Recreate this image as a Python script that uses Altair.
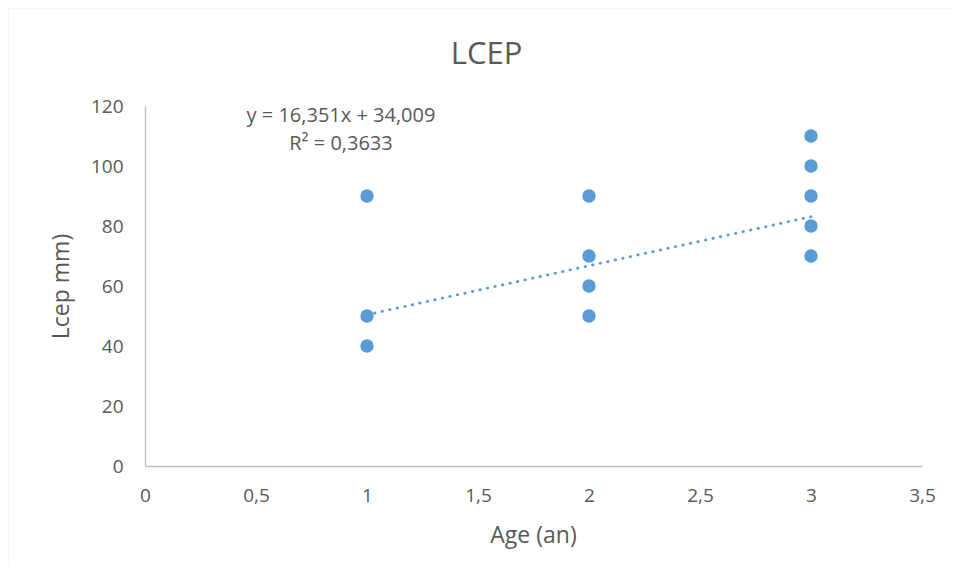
import altair as alt
import pandas as pd

# Data
ages = [1, 1, 1, 2, 2, 2, 2, 3, 3, 3, 3, 3]
lcep = [90, 50, 40, 90, 70, 60, 50, 110, 100, 90, 80, 70]

trend_x = [1, 3]
trend_y = [50.4, 83.1]

equation_lines = ["y = 16,351x + 34,009", "R² = 0,3633"]

x_ticks = [0, 0.5, 1, 1.5, 2, 2.5, 3, 3.5]
y_ticks = [0, 20, 40, 60, 80, 100, 120]

BLUE = "#5b9bd5"
GREY_TEXT = "#595959"
AXIS_GREY = "#bfbfbf"
FONT = "Open Sans"

pts = pd.DataFrame({"age": ages, "lcep": lcep})
trend = pd.DataFrame({"age": trend_x, "lcep": trend_y})
eq = pd.DataFrame({"label": ["\n".join(equation_lines)]})

x_scale = alt.Scale(domain=[0, 3.5], nice=False, zero=True)
y_scale = alt.Scale(domain=[0, 120], nice=False)

x_axis = alt.Axis(
    values=x_ticks, title="Age (an)", ticks=False, grid=False,
    labelExpr="replace(format(datum.value, ''), '.', ',')",
    labelFontSize=19, labelColor=GREY_TEXT, labelFont=FONT, labelPadding=20,
    domainColor=AXIS_GREY, domainWidth=1.3,
    titleFontSize=23, titleColor=GREY_TEXT, titleFont=FONT, titleFontWeight="normal",
    titleBaseline="alphabetic", titleY=76, titleX=388,
    labelFlush=False, labelOverlap=False,
)
y_axis = alt.Axis(
    values=y_ticks, title="Lcep mm)", ticks=False, grid=False,
    labelFontSize=19, labelColor=GREY_TEXT, labelFont=FONT, labelPadding=22,
    domainColor=AXIS_GREY, domainWidth=1.3,
    titleFontSize=23, titleColor=GREY_TEXT, titleFont=FONT, titleFontWeight="normal",
    titleBaseline="alphabetic", titleAngle=-90, titleX=-77, titleY=180, titleAlign="center",
    labelFlush=False, labelOverlap=False,
)

points = alt.Chart(pts).mark_circle(size=180, color=BLUE, opacity=1).encode(
    x=alt.X("age:Q", scale=x_scale, axis=x_axis),
    y=alt.Y("lcep:Q", scale=y_scale, axis=y_axis),
)

trend_line = alt.Chart(trend).mark_line(
    color=BLUE, strokeWidth=2.8, strokeDash=[0.5, 7.2], strokeCap="round"
).encode(
    x=alt.X("age:Q", scale=x_scale),
    y=alt.Y("lcep:Q", scale=y_scale),
)

eq_text = alt.Chart(eq).mark_text(
    font=FONT, fontSize=20, color=GREY_TEXT, align="center", baseline="alphabetic",
    lineBreak="\n", lineHeight=28,
).encode(
    x=alt.value(196),
    y=alt.value(16),
    text="label:N",
)

frame = alt.Chart(pd.DataFrame({"a": [0]})).mark_rect(
    fill=None, stroke="#d9d9d9", strokeWidth=1.5
).encode(
    x=alt.value(-137.5), x2=alt.value(1100), y=alt.value(-98.5), y2=alt.value(700)
)

chart = alt.layer(frame, trend_line, points, eq_text).properties(
    width=777,
    height=360,
    autosize=alt.AutoSizeParams(type="none"),
    padding={"left": 137, "top": 98, "right": 31, "bottom": 100},
    background="white",
    title=alt.TitleParams(
        "LCEP", font=FONT, fontSize=31, color=GREY_TEXT, fontWeight="normal",
        anchor="middle", dx=-47, baseline="alphabetic", offset=-88.5, frame="group",
    ),
).configure_view(stroke=None)

chart.save("out.html", embed_options={"renderer": "svg", "actions": False})
